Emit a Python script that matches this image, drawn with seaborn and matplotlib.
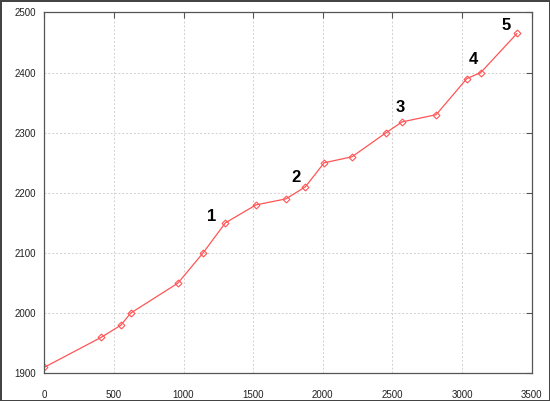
import pandas as pd
import seaborn as sns
import matplotlib.pyplot as plt

# Values
x_vals = [0, 410, 550, 620, 960, 1140, 1300, 1520, 1735, 1875, 2010, 2210,
          2455, 2570, 2815, 3035, 3135, 3395]
y_vals = [1910, 1960, 1980, 2000, 2050, 2100, 2150, 2180, 2190, 2210, 2250, 2260,
          2300, 2318, 2330, 2390, 2400, 2465]

# Numbered annotations and where they sit
note_text = ['1', '2', '3', '4', '5']
note_x = [1205, 1805, 2560, 3085, 3320]
note_y = [2160, 2225, 2342, 2421, 2479]

df = pd.DataFrame({'x': x_vals, 'y': y_vals})

sns.set_style('white')
plt.rcParams['font.family'] = ['Liberation Sans', 'DejaVu Sans']
fig = plt.figure(figsize=(5.5, 4.01), dpi=100, edgecolor='#444444', linewidth=2)
ax = fig.add_axes([0.0805, 0.069, 0.886, 0.9])

sns.lineplot(data=df, x='x', y='y', ax=ax, color='#ff5555', linewidth=0.9,
             marker='D', markersize=3.5, markerfacecolor='none',
             markeredgecolor='#ff5555', markeredgewidth=0.8)

for t, xx, yy in zip(note_text, note_x, note_y):
    ax.text(xx, yy, t, fontsize=12, fontweight='bold', ha='center', va='center',
            color='black')

ax.set_xlim(0, 3500)
ax.set_ylim(1900, 2500)
ax.set_xticks(range(0, 3501, 500))
ax.set_yticks(range(1900, 2501, 100))
ax.grid(True, linestyle=(0, (2, 2)), color='#d0d0d0', linewidth=0.7)
ax.tick_params(direction='in', length=4, labelsize=7, colors='#555555',
               labelcolor='#222222', top=True, right=True, pad=6)
ax.tick_params(axis='x', pad=12)
for s in ax.spines.values():
    s.set_color('#555555')
    s.set_linewidth(0.9)
ax.set_xlabel('')
ax.set_ylabel('')

fig.savefig('out.png', dpi=100, edgecolor=fig.get_edgecolor())
